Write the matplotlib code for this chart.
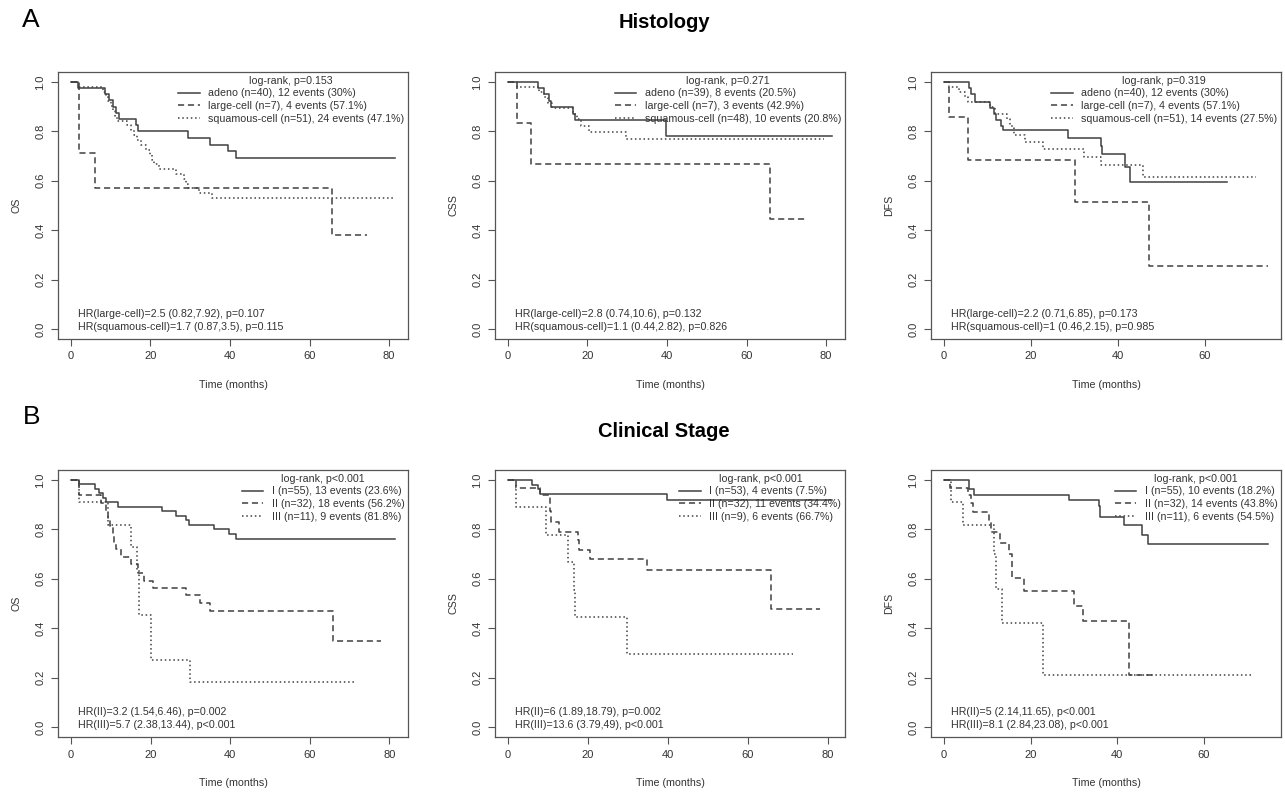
import matplotlib
matplotlib.use("Agg")
import matplotlib.pyplot as plt
from matplotlib.lines import Line2D

plt.rcParams['font.family'] = ['Liberation Sans', 'DejaVu Sans']

# ---- Histology: OS ----
os_adeno_t = [1.8, 8.5, 9.5, 10.5, 11.3, 12.0, 16.3, 16.8, 29.5, 35.0, 39.5, 41.5]
os_adeno_s = [0.975, 0.95, 0.925, 0.90, 0.875, 0.85, 0.825, 0.80, 0.773, 0.746, 0.72, 0.693]
os_adeno_end = 81.5
os_large_t = [2.1, 6.0, 65.6]
os_large_s = [0.714, 0.571, 0.381]
os_large_end = 74.4
os_squam_t = [2.0, 8.0, 8.8, 9.3, 10.0, 10.5, 11.0, 11.5, 14.0, 15.0, 15.8, 16.7,
              17.6, 18.8, 20.0, 20.5, 21.0, 22.2, 26.3, 28.4, 29.0, 29.5, 32.2, 35.5]
os_squam_s = [0.98, 0.961, 0.941, 0.922, 0.902, 0.882, 0.863, 0.843, 0.824, 0.804, 0.784, 0.765,
              0.745, 0.725, 0.706, 0.686, 0.667, 0.647, 0.627, 0.608, 0.588, 0.569, 0.549, 0.529]
os_squam_end = 81.5

# ---- Histology: CSS ----
css_adeno_t = [7.5, 9.0, 10.2, 10.9, 16.3, 16.9, 39.7]
css_adeno_s = [0.974, 0.949, 0.923, 0.897, 0.872, 0.846, 0.782]
css_adeno_end = 81.5
css_large_t = [2.2, 5.8, 65.8]
css_large_s = [0.833, 0.667, 0.444]
css_large_end = 74.8
css_squam_t = [2.2, 7.9, 9.0, 10.0, 11.2, 16.3, 17.3, 18.4, 20.5, 29.8]
css_squam_s = [0.979, 0.958, 0.937, 0.915, 0.894, 0.872, 0.85, 0.82, 0.797, 0.77]
css_squam_end = 79.5

# ---- Histology: DFS ----
dfs_adeno_t = [5.7, 6.3, 7.1, 10.5, 11.5, 12.0, 13.0, 13.5, 28.6, 36.0, 36.4, 41.7, 42.8]
dfs_adeno_s = [0.975, 0.95, 0.92, 0.895, 0.87, 0.845, 0.82, 0.805, 0.773, 0.74, 0.707, 0.657, 0.597]
dfs_adeno_end = 65.0
dfs_large_t = [1.2, 5.5, 30.2, 47.1]
dfs_large_s = [0.857, 0.686, 0.514, 0.257]
dfs_large_end = 74.5
dfs_squam_t = [1.2, 3.5, 4.8, 5.5, 10.5, 11.7, 14.6, 15.2, 16.0, 18.6, 22.7, 32.1, 36.0, 45.8]
dfs_squam_s = [0.98, 0.96, 0.94, 0.92, 0.90, 0.872, 0.85, 0.82, 0.787, 0.757, 0.73, 0.695, 0.663, 0.617]
dfs_squam_end = 71.7

# ---- Clinical stage: OS ----
os_s1_t = [2.1, 6.0, 7.1, 8.0, 8.8, 11.9, 22.8, 26.4, 29.0, 29.6, 36.0, 39.6, 41.5]
os_s1_s = [0.982, 0.964, 0.945, 0.927, 0.909, 0.891, 0.873, 0.855, 0.836, 0.818, 0.80, 0.78, 0.762]
os_s1_end = 81.4
os_s2_t = [2.1, 7.5, 8.8, 9.3, 9.8, 10.5, 10.9, 11.2, 12.6, 15.1, 16.8, 18.4, 20.7, 28.9, 32.5, 34.8, 65.7]
os_s2_s = [0.938, 0.906, 0.875, 0.844, 0.8125, 0.78, 0.75, 0.72, 0.69, 0.66, 0.625, 0.59, 0.563,
           0.533, 0.503, 0.47, 0.35]
os_s2_end = 77.9
os_s3_t = [2.1, 9.2, 15.2, 16.5, 17.0, 20.1, 29.9]
os_s3_s = [0.909, 0.818, 0.727, 0.636, 0.455, 0.273, 0.182]
os_s3_end = 71.2

# ---- Clinical stage: CSS ----
css_s1_t = [5.9, 7.5, 8.1, 39.8]
css_s1_s = [0.981, 0.962, 0.943, 0.92]
css_s1_end = 81.0
css_s2_t = [2.1, 8.1, 10.4, 10.8, 12.7, 17.4, 17.8, 20.5, 34.8, 65.8]
css_s2_s = [0.969, 0.938, 0.875, 0.828, 0.79, 0.755, 0.716, 0.678, 0.635, 0.476]
css_s2_end = 78.0
css_s3_t = [2.1, 9.4, 15.0, 16.4, 16.8, 29.8]
css_s3_s = [0.889, 0.778, 0.667, 0.556, 0.444, 0.296]
css_s3_end = 71.3

# ---- Clinical stage: DFS ----
dfs_s1_t = [5.8, 7.0, 28.9, 35.8, 36.1, 41.6, 45.7, 47.0]
dfs_s1_s = [0.962, 0.94, 0.918, 0.895, 0.849, 0.819, 0.778, 0.741]
dfs_s1_end = 74.8
dfs_s2_t = [1.5, 5.5, 6.2, 6.6, 10.5, 10.9, 13.0, 15.1, 15.6, 18.5, 30.1, 32.0, 42.6]
dfs_s2_s = [0.969, 0.938, 0.906, 0.869, 0.83, 0.79, 0.743, 0.70, 0.604, 0.55, 0.489, 0.428, 0.212]
dfs_s2_end = 48.2
dfs_s3_t = [1.6, 4.5, 11.5, 12.0, 13.3, 22.8]
dfs_s3_s = [0.909, 0.818, 0.70, 0.56, 0.42, 0.21]
dfs_s3_end = 71.2

# ---- texts ----
hist_labels_os = ["adeno (n=40), 12 events (30%)", "large-cell (n=7), 4 events (57.1%)",
                  "squamous-cell (n=51), 24 events (47.1%)"]
hist_labels_css = ["adeno (n=39), 8 events (20.5%)", "large-cell (n=7), 3 events (42.9%)",
                   "squamous-cell (n=48), 10 events (20.8%)"]
hist_labels_dfs = ["adeno (n=40), 12 events (30%)", "large-cell (n=7), 4 events (57.1%)",
                   "squamous-cell (n=51), 14 events (27.5%)"]
stage_labels_os = ["I (n=55), 13 events (23.6%)", "II (n=32), 18 events (56.2%)",
                   "III (n=11), 9 events (81.8%)"]
stage_labels_css = ["I (n=53), 4 events (7.5%)", "II (n=32), 11 events (34.4%)",
                    "III (n=9), 6 events (66.7%)"]
stage_labels_dfs = ["I (n=55), 10 events (18.2%)", "II (n=32), 14 events (43.8%)",
                    "III (n=11), 6 events (54.5%)"]
logrank = ["log-rank, p=0.153", "log-rank, p=0.271", "log-rank, p=0.319",
           "log-rank, p<0.001", "log-rank, p<0.001", "log-rank, p<0.001"]
hr_texts = [
    ["HR(large-cell)=2.5 (0.82,7.92), p=0.107", "HR(squamous-cell)=1.7 (0.87,3.5), p=0.115"],
    ["HR(large-cell)=2.8 (0.74,10.6), p=0.132", "HR(squamous-cell)=1.1 (0.44,2.82), p=0.826"],
    ["HR(large-cell)=2.2 (0.71,6.85), p=0.173", "HR(squamous-cell)=1 (0.46,2.15), p=0.985"],
    ["HR(II)=3.2 (1.54,6.46), p=0.002", "HR(III)=5.7 (2.38,13.44), p<0.001"],
    ["HR(II)=6 (1.89,18.79), p=0.002", "HR(III)=13.6 (3.79,49), p<0.001"],
    ["HR(II)=5 (2.14,11.65), p<0.001", "HR(III)=8.1 (2.84,23.08), p<0.001"],
]
ylabels = ["OS", "CSS", "DFS", "OS", "CSS", "DFS"]

panels = [
    [(os_adeno_t, os_adeno_s, os_adeno_end), (os_large_t, os_large_s, os_large_end),
     (os_squam_t, os_squam_s, os_squam_end)],
    [(css_adeno_t, css_adeno_s, css_adeno_end), (css_large_t, css_large_s, css_large_end),
     (css_squam_t, css_squam_s, css_squam_end)],
    [(dfs_adeno_t, dfs_adeno_s, dfs_adeno_end), (dfs_large_t, dfs_large_s, dfs_large_end),
     (dfs_squam_t, dfs_squam_s, dfs_squam_end)],
    [(os_s1_t, os_s1_s, os_s1_end), (os_s2_t, os_s2_s, os_s2_end), (os_s3_t, os_s3_s, os_s3_end)],
    [(css_s1_t, css_s1_s, css_s1_end), (css_s2_t, css_s2_s, css_s2_end),
     (css_s3_t, css_s3_s, css_s3_end)],
    [(dfs_s1_t, dfs_s1_s, dfs_s1_end), (dfs_s2_t, dfs_s2_s, dfs_s2_end),
     (dfs_s3_t, dfs_s3_s, dfs_s3_end)],
]
legend_labels = [hist_labels_os, hist_labels_css, hist_labels_dfs,
                 stage_labels_os, stage_labels_css, stage_labels_dfs]

W, H = 1285, 792
lefts = [58, 495, 931]
tops = [72, 470]
aw, ah = 350, 267
styles = ['-', (0, (4, 2.5)), (0, (1, 1.8))]
col = '#404040'
fs = 7.7

fig = plt.figure(figsize=(W / 100, H / 100), dpi=100)

for i in range(6):
    r, c = divmod(i, 3)
    ax = fig.add_axes([lefts[c] / W, 1 - (tops[r] + ah) / H, aw / W, ah / H])
    tmax = 0
    handles = []
    for (t, s, end), ls in zip(panels[i], styles):
        x = [0] + t + [end]
        y = [1.0] + s + [s[-1]]
        ax.plot(x, y, drawstyle='steps-post', color=col, lw=1.1, linestyle=ls)
        handles.append(Line2D([], [], color=col, lw=1.1, linestyle=ls))
        tmax = max(tmax, end)
    ax.set_xlim(-0.04 * tmax, 1.04 * tmax)
    ax.set_ylim(-0.04, 1.04)
    ax.set_xticks(range(0, int(tmax) + 1, 20))
    ax.set_yticks([0, 0.2, 0.4, 0.6, 0.8, 1.0])
    ax.set_yticklabels(["0.0", "0.2", "0.4", "0.6", "0.8", "1.0"], rotation=90, va='center')
    ax.tick_params(length=5, width=0.8, color='#555555', labelsize=8, labelcolor='#333333', pad=4)
    for sp in ax.spines.values():
        sp.set_color('#555555')
        sp.set_linewidth(0.9)
    ax.set_xlabel("Time (months)", fontsize=fs, color='#333333')
    ax.set_ylabel(ylabels[i], fontsize=fs, color='#333333')
    ax.xaxis.set_label_coords(0.5, -0.155)
    ax.yaxis.set_label_coords(-0.105, 0.5)
    leg = ax.legend(handles, legend_labels[i], title=logrank[i], loc='upper right',
                    bbox_to_anchor=(1.0, 1.0), frameon=False, fontsize=fs, title_fontsize=fs,
                    borderaxespad=0, borderpad=0.35, handlelength=2.0, handletextpad=0.8,
                    labelspacing=0.25)
    for tx in leg.get_texts():
        tx.set_color('#333333')
    leg.get_title().set_color('#333333')
    ax.text(0.057, 0.094, hr_texts[i][0], transform=ax.transAxes, fontsize=fs,
            color='#333333', va='center', ha='left')
    ax.text(0.057, 0.045, hr_texts[i][1], transform=ax.transAxes, fontsize=fs,
            color='#333333', va='center', ha='left')

fig.text(22 / W, 1 - 20 / H, "A", fontsize=19, ha='left', va='center')
fig.text(23 / W, 1 - 417 / H, "B", fontsize=19, ha='left', va='center')
fig.text(664 / W, 1 - 23 / H, "Histology", fontsize=14.5, fontweight='bold', ha='center', va='center')
fig.text(664 / W, 1 - 432 / H, "Clinical Stage", fontsize=14.5, fontweight='bold',
         ha='center', va='center')

fig.savefig("out.png", dpi=100)
